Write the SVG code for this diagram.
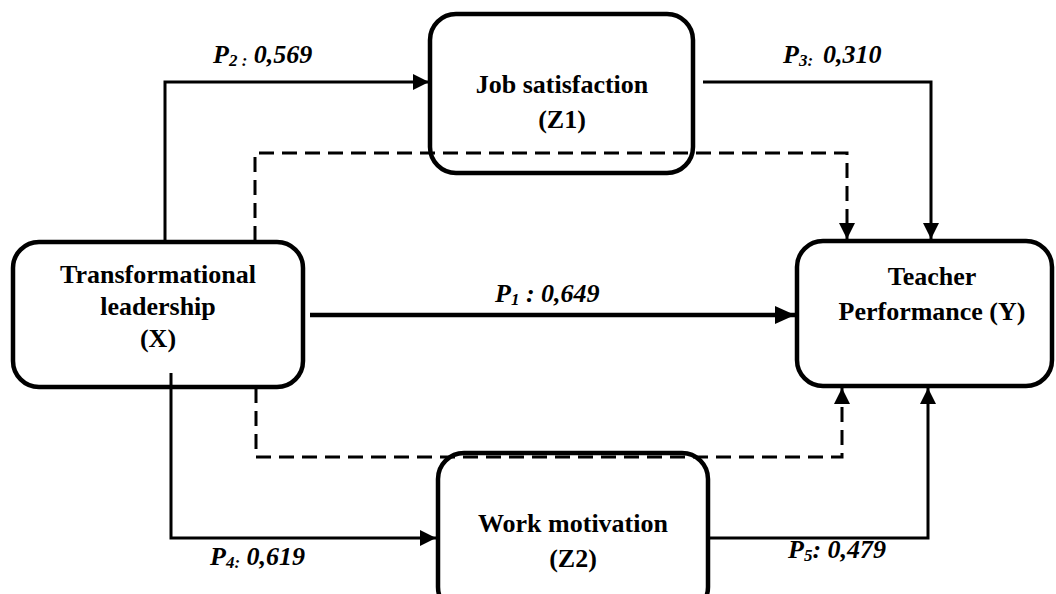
<svg xmlns="http://www.w3.org/2000/svg" width="1056" height="594" viewBox="0 0 1056 594">
<style>
.box{fill:#fff;stroke:#000;stroke-width:4.5}
.t{font-family:'Liberation Serif','DejaVu Serif',serif;font-weight:bold;font-size:26px;fill:#000;text-anchor:middle}
.lb{font-family:'Liberation Serif','DejaVu Serif',serif;font-weight:bold;font-style:italic;font-size:26px;fill:#000}
.sub{font-size:17px}
.c{fill:none;stroke:#000;stroke-width:3}
.d{fill:none;stroke:#000;stroke-width:3;stroke-dasharray:15 8}
.thick{fill:none;stroke:#000;stroke-width:4.5}
</style>
<defs>
<marker id="ah" markerUnits="userSpaceOnUse" markerWidth="16" markerHeight="16" refX="16" refY="8" orient="auto">
<path d="M0,0 L16,8 L0,16 z" fill="#000"/>
</marker>
<marker id="ahb" markerUnits="userSpaceOnUse" markerWidth="20" markerHeight="20" refX="20" refY="10" orient="auto">
<path d="M0,1 L20,10 L0,19 z" fill="#000"/>
</marker>
</defs>
<rect width="1056" height="594" fill="#fff"/>
<g id="node-z1">
<rect class="box" x="430" y="14" width="263" height="159" rx="26"/>
<text class="t" x="562" y="93">Job satisfaction</text>
<text class="t" x="562" y="128">(Z1)</text>
</g>
<g id="node-x">
<rect class="box" x="13" y="242" width="290" height="145" rx="26"/>
<text class="t" x="158" y="283">Transformational</text>
<text class="t" x="158" y="315">leadership</text>
<text class="t" x="158" y="347">(X)</text>
</g>
<g id="node-y">
<rect class="box" x="797" y="241" width="255" height="145" rx="26"/>
<text class="t" x="932" y="285">Teacher</text>
<text class="t" x="932" y="320">Performance (Y)</text>
</g>
<g id="node-z2">
<rect class="box" x="438" y="453" width="270" height="160" rx="26"/>
<text class="t" x="573" y="532">Work motivation</text>
<text class="t" x="573" y="567">(Z2)</text>
</g>
<g id="connectors">
<path class="c" d="M165,241 V82 H429" marker-end="url(#ah)"/>
<path class="d" d="M255,241 V153 H847 V239" marker-end="url(#ah)"/>
<path class="c" d="M703,82 H931 V239" marker-end="url(#ah)"/>
<path class="thick" d="M310,315 H795" marker-end="url(#ahb)"/>
<path class="c" d="M171,373 V538 H436" marker-end="url(#ah)"/>
<path class="d" d="M256,388 V457 H842 V388" marker-end="url(#ah)"/>
<path class="c" d="M708,538 H928 V388" marker-end="url(#ah)"/>
</g>
<g id="labels">
<text class="lb" x="213" y="63">P<tspan class="sub" dy="3">2 :</tspan><tspan dy="-3"> 0,569</tspan></text>
<text class="lb" x="783" y="63">P<tspan class="sub" dy="3">3:</tspan><tspan dy="-3" dx="10">0,310</tspan></text>
<text class="lb" x="495" y="302">P<tspan class="sub" dy="3">1</tspan><tspan dy="-3"> : 0,649</tspan></text>
<text class="lb" x="210" y="565">P<tspan class="sub" dy="3">4:</tspan><tspan dy="-3"> 0,619</tspan></text>
<text class="lb" x="788" y="558">P<tspan class="sub" dy="3">5</tspan><tspan dy="-3">: 0,479</tspan></text>
</g>
</svg>
